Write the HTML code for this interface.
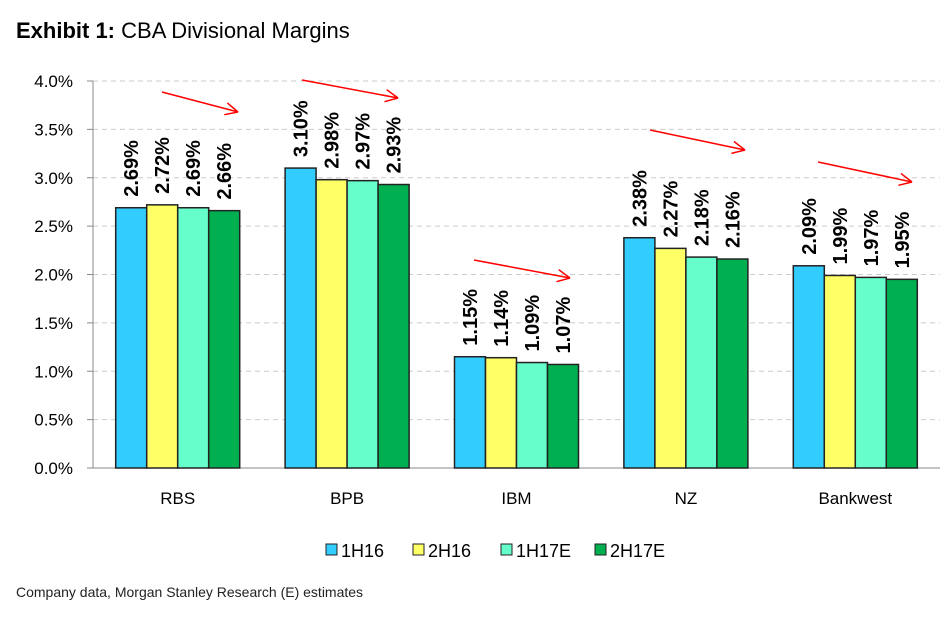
<!DOCTYPE html>
<html><head><meta charset="utf-8"><style>
body{margin:0;background:#fff;width:944px;height:617px;overflow:hidden;font-family:"Liberation Sans",sans-serif}
</style></head><body>
<svg width="944" height="617" xmlns="http://www.w3.org/2000/svg" font-family="Liberation Sans, sans-serif">
<text x="16" y="38" font-size="22"><tspan font-weight="bold">Exhibit 1:</tspan>  CBA Divisional Margins</text>
<g id="grid"></g><g id="bars"></g><g id="labels"></g><g id="arrows"></g><g id="legend"></g>
<text x="16" y="597" font-size="14" fill="#222">Company data, Morgan Stanley Research (E) estimates</text>
</svg>
<script>
const categories=["RBS","BPB","IBM","NZ","Bankwest"];
const seriesNames=["1H16","2H16","1H17E","2H17E"];
const s1H16=[2.69,3.10,1.15,2.38,2.09];
const s2H16=[2.72,2.98,1.14,2.27,1.99];
const s1H17E=[2.69,2.97,1.09,2.18,1.97];
const s2H17E=[2.66,2.93,1.07,2.16,1.95];
const yTicks=[0,0.5,1.0,1.5,2.0,2.5,3.0,3.5,4.0];
const series=[s1H16,s2H16,s1H17E,s2H17E];
const colors=["#33ccff","#ffff66","#66ffcc","#00b050"];
const NS="http://www.w3.org/2000/svg";
const x0=93,x1=940,yb=468,yt=81,ymax=4;
const y=v=>yb-(v/ymax)*(yb-yt);
const cw=(x1-x0)/categories.length,bw=31;
const cx=i=>x0+cw*(i+0.5);
function mk(t,a,p){const e=document.createElementNS(NS,t);for(const k in a)e.setAttribute(k,a[k]);p.appendChild(e);return e;}
const grid=document.getElementById('grid');
yTicks.forEach(v=>{
 if(v>0){const l=mk('line',{x1:x0,x2:x1,y1:y(v),y2:y(v),stroke:'#ccc','stroke-dasharray':'5,4'},grid);
 
 }
 mk('line',{x1:x0-6,x2:x0,y1:y(v),y2:y(v),stroke:'#888'},grid);
 const t=mk('text',{x:x0-20,y:y(v)+6,'font-size':17,'text-anchor':'end'},grid);t.textContent=v.toFixed(1)+'%';
 
 
});
mk('line',{x1:x0,x2:x0,y1:yt,y2:yb,stroke:'#888'},grid);
mk('line',{x1:x0,x2:x1,y1:yb,y2:yb,stroke:'#888'},grid);
const bars=document.getElementById('bars'),labels=document.getElementById('labels');
categories.forEach((c,i)=>{
 const t=mk('text',{x:cx(i),y:504,'font-size':17,'text-anchor':'middle'},labels);t.textContent=c;
 
 
 series.forEach((s,j)=>{
  const bx=cx(i)-2*bw+j*bw;
  const r=mk('rect',{x:bx,y:y(s[i]),width:bw,height:yb-y(s[i]),fill:colors[j],stroke:'#222','stroke-width':1.5},bars);
  
  
  const lx=bx+bw/2+7,ly=y(s[i])-11;
  const v=mk('text',{x:lx,y:ly,'font-size':20,'font-weight':'bold',transform:`rotate(-90 ${lx} ${ly})`},labels);
  v.textContent=s[i].toFixed(2)+'%';
  
  
 });
});
const arrows=document.getElementById('arrows');
const arr=[[162,92,238,112],[302,80,398,98],[474,260,570,278],[650,130,745,150],[818,162,912,182]];
arr.forEach(a=>{
 const g=mk('g',{stroke:'red','stroke-width':1.5,fill:'none'},arrows);
 
 
 mk('line',{x1:a[0],y1:a[1],x2:a[2],y2:a[3]},g);
 const ang=Math.atan2(a[3]-a[1],a[2]-a[0]);
 [0.45,-0.45].forEach(d=>mk('line',{x1:a[2],y1:a[3],x2:a[2]-14*Math.cos(ang+d),y2:a[3]-14*Math.sin(ang+d)},g));
});
const leg=document.getElementById('legend');
const lx=[326,413,501,595];
seriesNames.forEach((n,j)=>{
 const g=mk('g',{},leg);
 
 
 mk('rect',{x:lx[j],y:544,width:11,height:11,fill:colors[j],stroke:'#222'},g);
 const t=mk('text',{x:lx[j]+15,y:557,'font-size':18},g);t.textContent=n;
});
</script>
</body></html>
